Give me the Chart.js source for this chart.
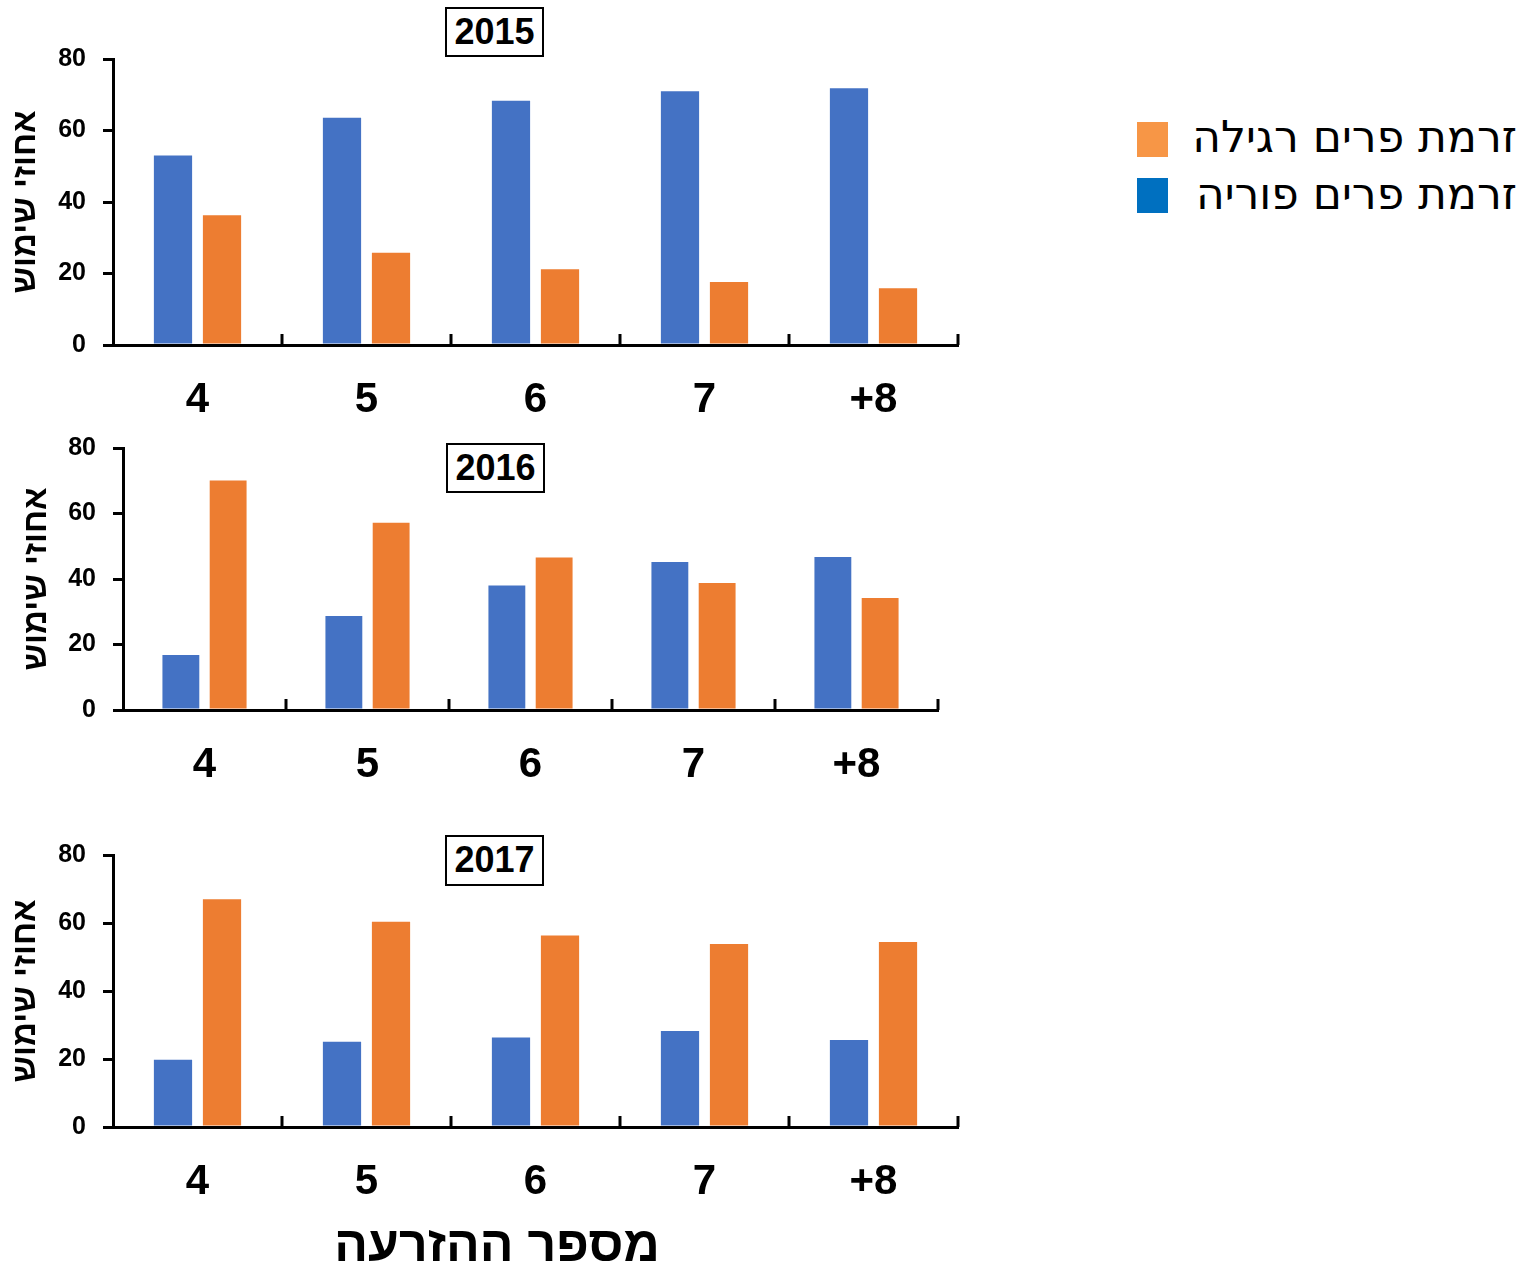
<!DOCTYPE html>
<html lang="he">
<head>
<meta charset="utf-8">
<script src="https://cdn.jsdelivr.net/npm/chart.js@4.4.1/dist/chart.umd.min.js"></script>
<style>
  body { margin: 0; background: #fff; width: 1535px; height: 1266px; overflow: hidden; position: relative; font-family: "Liberation Sans", Arial, sans-serif; }
  canvas { position: absolute; left: 0; }
  .yearBox { position: absolute; box-sizing: border-box; width: 99px; height: 50px; border: 2px solid #000; background: #fff;
    font: bold 36px "Liberation Sans", Arial, sans-serif; text-align: center; line-height: 46px; color: #000; }
  .swatch { position: absolute; width: 31px; height: 35px; }
  .legendText { position: absolute; right: 18px; font: 44px "DejaVu Sans", sans-serif; line-height: 44px; color: #000; white-space: nowrap; }
  #xTitle { position: absolute; left: 297px; width: 400px; top: 1215px; text-align: center; font: bold 50px "Liberation Sans", Arial, sans-serif; color: #000; }
</style>
</head>
<body>
<canvas id="chart2015" width="980" height="425" style="top:0px"></canvas>
<canvas id="chart2016" width="980" height="389" style="top:416px"></canvas>
<canvas id="chart2017" width="980" height="415" style="top:815px"></canvas>

<div class="yearBox" style="left:445px; top:7px">2015</div>
<div class="yearBox" style="left:446px; top:443px">2016</div>
<div class="yearBox" style="left:445px; top:835px; height:51px">2017</div>

<div class="swatch" style="left:1137px; top:122px; background:#F79646"></div>
<div class="legendText" dir="rtl" style="top:115px">זרמת פרים רגילה</div>
<div class="swatch" style="left:1137px; top:178px; background:#0070C0"></div>
<div class="legendText" dir="rtl" style="top:172px">זרמת פרים פוריה</div>

<div id="xTitle" dir="rtl">מספר ההזרעה</div>

<script>
// inseminations (x categories)
const categories = ["4", "5", "6", "7", "+8"];
const yTicks = [0, 20, 40, 60, 80];

const fertileLabel = "זרמת פרים פוריה";
const regularLabel = "זרמת פרים רגילה";
const yTitle = "אחוזי שימוש";

// percent of use
const fertile2015 = [53.0, 63.6, 68.3, 71.0, 71.8];
const regular2015 = [36.3, 25.8, 21.2, 17.6, 15.9];

const fertile2016 = [16.8, 28.7, 38.0, 45.2, 46.7];
const regular2016 = [70.1, 57.2, 46.6, 38.8, 34.2];

const fertile2017 = [19.8, 25.1, 26.3, 28.2, 25.6];
const regular2017 = [67.0, 60.4, 56.3, 53.8, 54.4];

const blue = "#4472C4";
const orange = "#ED7D31";

// small upward ticks on the x axis between categories
const innerTicks = {
  id: "innerTicks",
  afterDraw(chart) {
    const x = chart.scales.x;
    const y = chart.scales.y;
    const c = chart.ctx;
    c.save();
    c.strokeStyle = "#000";
    c.lineWidth = 3;
    for (let i = 1; i <= categories.length; i++) {
      const px = x.getPixelForValue(i - 0.5);
      c.beginPath();
      c.moveTo(px, y.bottom);
      c.lineTo(px, y.bottom - 11);
      c.stroke();
    }
    c.restore();
  }
};

function makeChart(id, fertile, regular, opts) {
  const ctx = document.getElementById(id).getContext("2d");
  return new Chart(ctx, {
    type: "bar",
    data: {
      labels: categories,
      datasets: [
        { label: fertileLabel, data: fertile, backgroundColor: blue },
        { label: regularLabel, data: regular, backgroundColor: orange }
      ]
    },
    plugins: [innerTicks],
    options: {
      responsive: false,
      animation: false,
      categoryPercentage: opts.catPct,
      barPercentage: 0.78,
      layout: { padding: { left: 0, right: opts.padRight, top: opts.padTop, bottom: 0 } },
      plugins: {
        legend: { display: false },
        tooltip: { enabled: false }
      },
      scales: {
        x: {
          grid: { display: false, drawTicks: false },
          border: { color: "#000", width: 3 },
          ticks: { color: "#000", font: { family: "Liberation Sans", size: 42, weight: "bold" }, padding: opts.xPad, maxRotation: 0 },
          afterFit: s => { s.height = opts.xHeight; }
        },
        y: {
          min: 0,
          max: 80,
          afterBuildTicks: s => { s.ticks = yTicks.map(v => ({ value: v })); },
          grid: { drawOnChartArea: false, drawTicks: true, tickLength: 10, color: "#000", lineWidth: 3 },
          border: { color: "#000", width: 3 },
          ticks: { color: "#000", font: { family: "Liberation Sans", size: 25, weight: "bold" }, padding: 17 },
          title: {
            display: true,
            text: yTitle,
            color: "#000",
            font: { family: "Liberation Sans", size: 33, weight: "bold" },
            padding: { top: opts.titlePad, bottom: 0 }
          },
          afterFit: s => { s.width = opts.yWidth; }
        }
      }
    }
  });
}

makeChart("chart2015", fertile2015, regular2015,
  { padRight: 22, padTop: 59, xHeight: 80, yWidth: 113, xPad: 30, titlePad: 6, catPct: 0.58 });
makeChart("chart2016", fertile2016, regular2016,
  { padRight: 42, padTop: 28, xHeight: 95, yWidth: 123, xPad: 30, titlePad: 17, catPct: 0.58 });
makeChart("chart2017", fertile2017, regular2017,
  { padRight: 22, padTop: 40, xHeight: 103, yWidth: 113, xPad: 30, titlePad: 6, catPct: 0.58 });
</script>
</body>
</html>
